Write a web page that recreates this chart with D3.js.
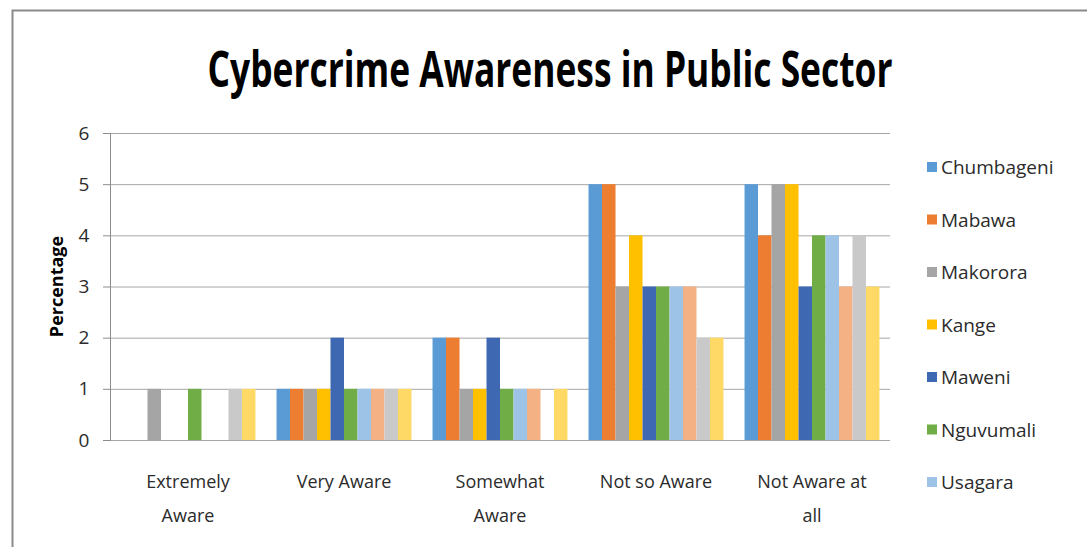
<!DOCTYPE html>
<html>
<head>
<meta charset="utf-8">
<title>Cybercrime Awareness in Public Sector</title>
<script src="https://cdn.jsdelivr.net/npm/d3@7"></script>
<style>
  body { margin:0; background:#fff; }
  .canvas { width:1087px; height:547px; }
  text { font-family:"Open Sans", "Noto Sans", sans-serif; fill:#333; }
  .grid line { stroke:#a6a6a6; }
  .grid .domain { display:none; }
  .axis .domain, .axis line { stroke:#8c8c8c; }
</style>
</head>
<body>
<div class="canvas" id="canvas"></div>
<script>

// data
var categories = ['Extremely Aware', 'Very Aware', 'Somewhat Aware', 'Not so Aware', 'Not Aware at all'];
var catLines = [['Extremely', 'Aware'], ['Very Aware'], ['Somewhat', 'Aware'], ['Not so Aware'], ['Not Aware at', 'all']];

// only the first 7 names are shown in the legend, the rest are cut off
var series = ['Chumbageni', 'Mabawa', 'Makorora', 'Kange', 'Maweni', 'Nguvumali', 'Usagara', 'Series 8', 'Series 9', 'Series 10'];
var colors = ['#5b9bd5', '#ed7d31', '#a5a5a5', '#ffc000', '#3f68b3', '#70ad47', '#9dc3e6', '#f4b183', '#c9c9c9', '#ffd966'];

var extremelyAware = [0, 0, 1, 0, 0, 1, 0, 0, 1, 1];
var veryAware      = [1, 1, 1, 1, 2, 1, 1, 1, 1, 1];
var somewhatAware  = [2, 2, 1, 1, 2, 1, 1, 1, 0, 1];
var notSoAware     = [5, 5, 3, 4, 3, 3, 3, 3, 2, 2];
var notAwareAtAll  = [5, 4, 5, 5, 3, 4, 4, 3, 4, 3];
var values = [extremelyAware, veryAware, somewhatAware, notSoAware, notAwareAtAll];

var yTicks = [0, 1, 2, 3, 4, 5, 6];
var legendShown = 7;

var outerWidth = 1087, outerHeight = 547;
var m = {t:133, r:197, b:107, l:110};
var w = outerWidth - m.l - m.r,
    h = outerHeight - m.t - m.b;

var svg = d3.select('.canvas')
    .append('svg')
    .attr('width', outerWidth)
    .attr('height', outerHeight);

// frame (left and top edges are visible)
svg.append('path')
    .attr('d', 'M12.5,547 L12.5,10.5 L1087,10.5')
    .attr('fill', 'none')
    .attr('stroke', '#8a8a8a')
    .attr('stroke-width', 2);

// squeeze a text horizontally around its anchor so it fits a given length
function squeeze(sel, target) {
    var len = sel.node().getComputedTextLength();
    var k = Math.min(1, target / len);
    sel.attr('transform', sel.attr('data-base') + ' scale(' + k + ',1)');
}

// title
var title = svg.append('text')
    .attr('data-base', 'translate(550,87)')
    .attr('text-anchor', 'middle')
    .style('font-size', '50px')
    .style('font-weight', 'bold')
    .style('fill', '#000')
    .text('Cybercrime Awareness in Public Sector');
squeeze(title, 685);

var plot = svg.append('g')
    .attr('transform', 'translate(' + m.l + ',' + m.t + ')');

// scales
var scaleX = d3.scaleBand()
    .domain(categories)
    .range([0, w])
    .paddingInner(0.135)
    .paddingOuter(0.0675);

var scaleX1 = d3.scaleBand()
    .domain(series)
    .range([0, scaleX.bandwidth()]);

var scaleY = d3.scaleLinear()
    .domain([0, 6])
    .range([h, 0]);

var colorScale = d3.scaleOrdinal()
    .domain(series)
    .range(colors);

// gridlines
plot.append('g')
    .attr('class', 'grid')
    .call(d3.axisLeft(scaleY).tickValues(yTicks).tickSize(-w).tickFormat(''));

// bars
var groups = plot.selectAll('.group')
    .data(categories)
    .enter()
    .append('g')
    .attr('class', 'group')
    .attr('transform', function(d) { return 'translate(' + scaleX(d) + ',0)'; });

groups.selectAll('rect')
    .data(function(d, i) {
        return series.map(function(s, j) { return {series: s, value: values[i][j]}; });
    })
    .enter()
    .append('rect')
    .attr('x', function(d) { return scaleX1(d.series); })
    .attr('width', scaleX1.bandwidth())
    .attr('y', function(d) { return scaleY(d.value); })
    .attr('height', function(d) { return h - scaleY(d.value); })
    .attr('fill', function(d) { return colorScale(d.series); });

// y axis
var axisY = plot.append('g')
    .attr('class', 'axis')
    .call(d3.axisLeft(scaleY).tickValues(yTicks).tickSize(7).tickPadding(16).tickFormat(d3.format('d')));
axisY.selectAll('text')
    .style('font-size', '19px')
    .style('fill', '#2b2b2b')
    .attr('text-anchor', 'middle')
    .attr('dx', '-3');

// x axis labels (wrapped like the original)
var xLabels = plot.selectAll('.xlabel')
    .data(categories)
    .enter()
    .append('text')
    .attr('class', 'xlabel')
    .attr('text-anchor', 'middle')
    .attr('transform', function(d) { return 'translate(' + (scaleX(d) + scaleX.bandwidth() / 2) + ',' + (h + 48) + ')'; })
    .style('font-size', '18px')
    .style('fill', '#2b2b2b');

xLabels.selectAll('tspan')
    .data(function(d, i) { return catLines[i]; })
    .enter()
    .append('tspan')
    .attr('x', 0)
    .attr('y', function(d, i) { return i * 34; })
    .text(function(d) { return d; });

// y title (rotated, so the squeeze runs along its length)
var yTitle = svg.append('text')
    .attr('data-base', 'translate(63,' + (m.t + h / 2) + ') rotate(-90)')
    .attr('text-anchor', 'middle')
    .style('font-size', '18px')
    .style('font-weight', 'bold')
    .style('fill', '#000')
    .text('Percentage');
squeeze(yTitle, 132);

// legend
var legend = svg.selectAll('.legend')
    .data(series.slice(0, legendShown))
    .enter()
    .append('g')
    .attr('class', 'legend')
    .attr('transform', function(d, i) { return 'translate(927,' + (167 + i * 52.5) + ')'; });

legend.append('rect')
    .attr('x', 0)
    .attr('y', -5)
    .attr('width', 10)
    .attr('height', 10)
    .attr('fill', function(d) { return colorScale(d); });

legend.append('text')
    .attr('x', 14)
    .attr('y', 7)
    .style('font-size', '19px')
    .style('fill', '#2b2b2b')
    .text(function(d) { return d; });

</script>
</body>
</html>
